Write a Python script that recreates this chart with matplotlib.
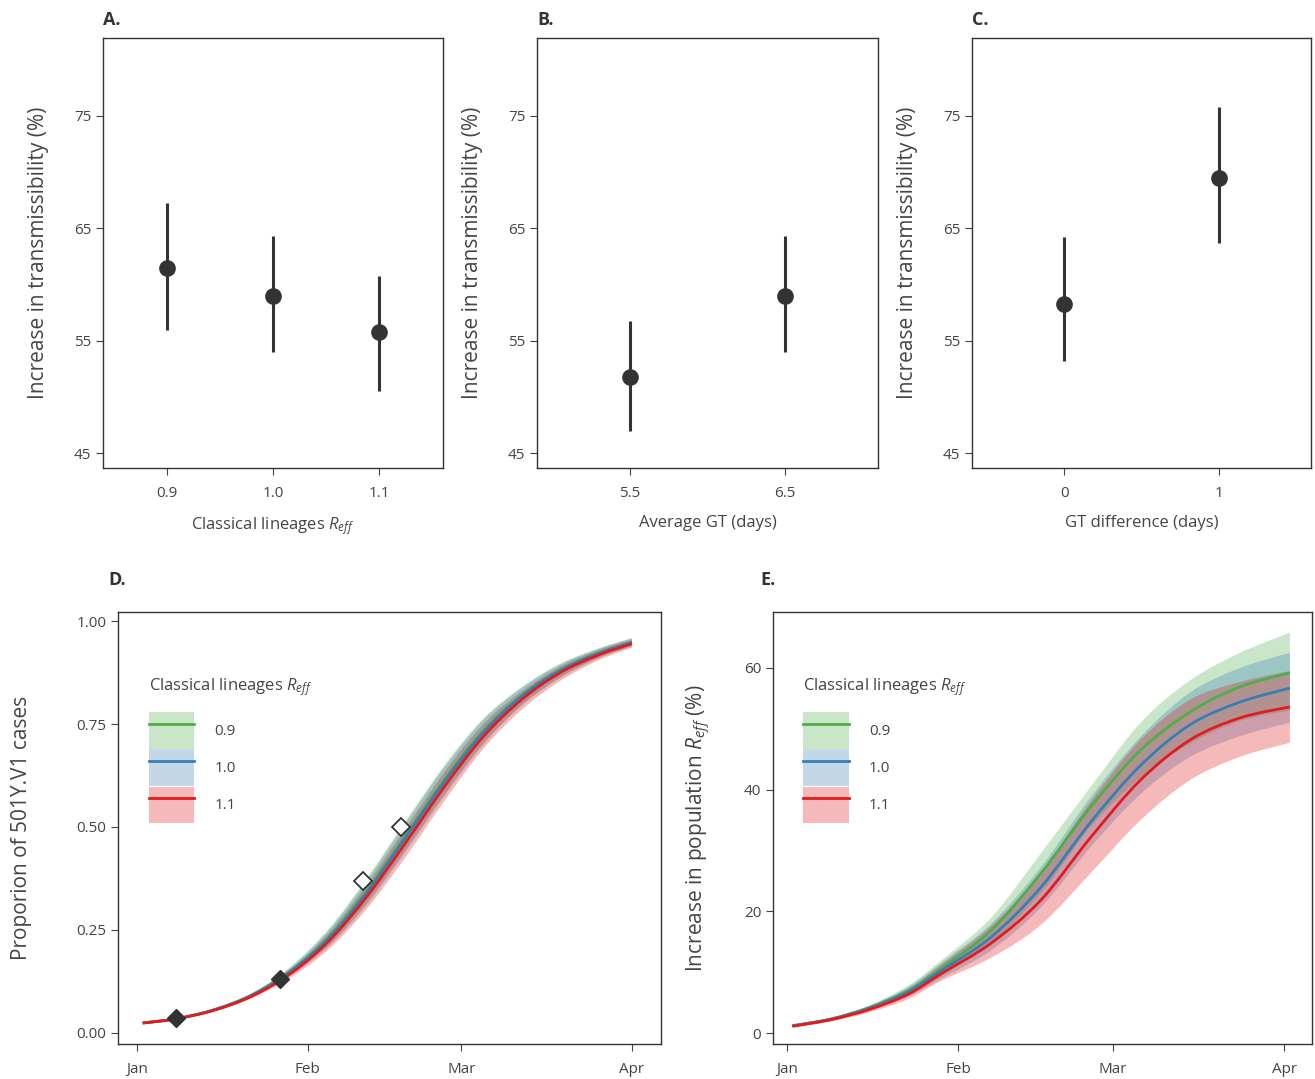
import matplotlib
matplotlib.use("Agg")
import matplotlib.pyplot as plt
import numpy as np
from matplotlib.patches import Patch, PathPatch
from matplotlib.path import Path
from matplotlib.lines import Line2D

plt.rcParams['font.family'] = ['Open Sans', 'DejaVu Sans']
plt.rcParams['mathtext.fontset'] = 'custom'
plt.rcParams['mathtext.it'] = 'Open Sans:italic'
plt.rcParams['mathtext.rm'] = 'Open Sans'

# ---- top panels data ----
a_labels = ['0.9', '1.0', '1.1']
a_mid = [61.5, 59.0, 55.8]
a_lo = [56.0, 54.0, 50.5]
a_hi = [67.2, 64.3, 60.8]
b_labels = ['5.5', '6.5']
b_mid = [51.8, 59.0]
b_lo = [47.0, 54.0]
b_hi = [56.8, 64.3]
c_labels = ['0', '1']
c_mid = [58.3, 69.5]
c_lo = [53.2, 63.7]
c_hi = [64.2, 75.8]

# ---- panel D data (days since 1 Jan) ----
days = [1, 7, 14, 21, 28, 35, 42, 49, 56, 63, 70, 77, 84, 90]
d_red = [0.024, 0.034, 0.055, 0.09, 0.145, 0.225, 0.335, 0.465, 0.60, 0.72, 0.81, 0.875, 0.918, 0.945]
d_red_lo = [0.023, 0.033, 0.052, 0.085, 0.135, 0.205, 0.305, 0.43, 0.565, 0.69, 0.785, 0.855, 0.905, 0.935]
d_red_hi = [0.025, 0.035, 0.058, 0.095, 0.155, 0.245, 0.365, 0.50, 0.635, 0.75, 0.83, 0.89, 0.93, 0.955]
d_blue = [0.024, 0.034, 0.056, 0.092, 0.15, 0.232, 0.345, 0.478, 0.612, 0.73, 0.818, 0.88, 0.922, 0.948]
d_blue_lo = [0.023, 0.033, 0.053, 0.087, 0.14, 0.212, 0.315, 0.443, 0.577, 0.70, 0.795, 0.862, 0.91, 0.938]
d_blue_hi = [0.025, 0.035, 0.059, 0.097, 0.16, 0.252, 0.375, 0.513, 0.647, 0.76, 0.838, 0.895, 0.933, 0.958]
d_green = [0.024, 0.034, 0.056, 0.093, 0.152, 0.235, 0.35, 0.483, 0.617, 0.734, 0.82, 0.882, 0.923, 0.949]
d_green_lo = [0.023, 0.033, 0.053, 0.088, 0.142, 0.215, 0.32, 0.448, 0.582, 0.704, 0.797, 0.864, 0.911, 0.939]
d_green_hi = [0.025, 0.035, 0.06, 0.098, 0.162, 0.255, 0.38, 0.518, 0.652, 0.764, 0.84, 0.897, 0.934, 0.959]
obs_filled_day = [7, 26]
obs_filled_val = [0.036, 0.13]
obs_open_day = [41, 48]
obs_open_val = [0.37, 0.50]

# ---- panel E data ----
e_days = [1, 8, 15, 22, 28, 37, 46, 55, 64, 73, 82, 91]
e_green = [1.2, 2.3, 4.2, 7.0, 10.7, 16.9, 26.3, 37.2, 46.5, 52.8, 56.9, 59.2]
e_green_lo = [1.1, 2.1, 3.8, 6.2, 9.4, 14.8, 23.0, 33.9, 42.0, 47.6, 51.3, 53.0]
e_green_hi = [1.3, 2.5, 4.6, 7.8, 12.0, 19.0, 29.6, 40.5, 51.0, 58.0, 62.5, 65.8]
e_blue = [1.2, 2.3, 4.1, 6.8, 10.3, 15.8, 24.0, 34.7, 44.0, 50.7, 54.4, 56.7]
e_blue_lo = [1.1, 2.1, 3.7, 6.0, 9.0, 13.6, 20.7, 30.6, 39.3, 45.4, 48.8, 51.0]
e_blue_hi = [1.3, 2.5, 4.5, 7.6, 11.6, 18.0, 27.3, 38.8, 48.7, 56.0, 60.0, 62.5]
e_red = [1.1, 2.2, 3.9, 6.4, 9.8, 14.8, 21.9, 32.2, 41.6, 48.2, 51.8, 53.6]
e_red_lo = [1.0, 1.9, 3.4, 5.6, 8.6, 12.4, 17.8, 26.3, 35.0, 41.6, 45.4, 47.7]
e_red_hi = [1.2, 2.5, 4.4, 7.3, 11.3, 17.6, 26.4, 38.1, 48.2, 54.8, 57.7, 59.5]

month_days = [0, 31, 59, 90]
month_labels = ['Jan', 'Feb', 'Mar', 'Apr']
leg_labels = ['0.9', '1.0', '1.1']
GREEN, BLUE, RED = '#4daf4a', '#377eb8', '#e41a1c'
DARK = '#333333'
TXT = '#444444'

W, H = 1315, 1079
fig = plt.figure(figsize=(W/100, H/100), dpi=100)


def bezier_verts(x, y):
    """Catmull-Rom control points -> cubic Bezier vertices (drawn by matplotlib Path)."""
    x = np.asarray(x, float); y = np.asarray(y, float)
    n = len(x)
    verts = [(x[0], y[0])]
    for i in range(n - 1):
        i0 = max(i - 1, 0); i3 = min(i + 2, n - 1)
        c1 = (x[i] + (x[i+1] - x[i0]) / 6, y[i] + (y[i+1] - y[i0]) / 6)
        c2 = (x[i+1] - (x[i3] - x[i]) / 6, y[i+1] - (y[i3] - y[i]) / 6)
        verts += [c1, c2, (x[i+1], y[i+1])]
    return verts


def smooth_line(ax, x, y, **kw):
    v = bezier_verts(x, y)
    codes = [Path.MOVETO] + [Path.CURVE4] * (len(v) - 1)
    ax.add_patch(PathPatch(Path(v, codes), fill=False, **kw))


def smooth_band(ax, x, lo, hi, **kw):
    up = bezier_verts(x, hi)
    dn = bezier_verts(x[::-1], lo[::-1])
    v = up + [dn[0]] + dn[1:] + [up[0]]
    codes = ([Path.MOVETO] + [Path.CURVE4] * (len(up) - 1) + [Path.LINETO]
             + [Path.CURVE4] * (len(dn) - 1) + [Path.CLOSEPOLY])
    ax.add_patch(PathPatch(Path(v, codes), lw=0, **kw))


def ax_px(x0, y0, x1, y1):
    return fig.add_axes([x0/W, 1 - y1/H, (x1-x0)/W, (y1-y0)/H])


def style(ax):
    for s in ax.spines.values():
        s.set_color(DARK); s.set_linewidth(1.0)
    ax.tick_params(colors=TXT, labelcolor=TXT, labelsize=11, length=5, width=0.8)
    ax.tick_params(axis='x', pad=8)


tops = [(103, 443, a_labels, a_mid, a_lo, a_hi, 'Classical lineages $R_{eff}$', 'A.'),
        (537, 878, b_labels, b_mid, b_lo, b_hi, 'Average GT (days)', 'B.'),
        (972, 1311, c_labels, c_mid, c_lo, c_hi, 'GT difference (days)', 'C.')]
for x0, x1, labs, mid, lo, hi, xl, tag in tops:
    ax = ax_px(x0, 38, x1, 468)
    style(ax)
    xs = np.arange(len(labs))
    ax.vlines(xs, lo, hi, color=DARK, lw=2.2)
    ax.plot(xs, mid, 'o', color=DARK, ms=11)
    ax.set_xticks(xs, labs)
    ax.set_xlim(-0.6, len(labs) - 0.4)
    ax.set_ylim(43.7, 81.9)
    ax.set_yticks([45, 55, 65, 75])
    ax.set_xlabel(xl, fontsize=12, color=TXT, labelpad=10)
    ax.set_ylabel('Increase in transmissibility (%)', fontsize=15, color=TXT, labelpad=18)
    fig.text(x0/W, 1 - 20/H, tag, fontsize=13, fontweight='bold', color=DARK, va='center')


def legend(ax):
    handles = []
    for c in (GREEN, BLUE, RED):
        handles.append((Patch(facecolor=c, alpha=0.3, edgecolor='none'),
                        Line2D([], [], color=c, lw=2)))
    lg = ax.legend(handles, leg_labels, title='Classical lineages $R_{eff}$',
                   loc='upper left', bbox_to_anchor=(0.045, 0.865), frameon=False,
                   handlelength=3.0, handleheight=3.3, fontsize=11, title_fontsize=12,
                   labelspacing=0.05, handletextpad=1.3, borderaxespad=0)
    lg.get_title().set_color(TXT)
    lg._legend_box.align = 'left'
    lg._legend_box.sep = 10
    for t in lg.get_texts():
        t.set_color(TXT)


# Panel D
ax = ax_px(118, 612, 661, 1044)
style(ax)
for c, lo, hi in ((GREEN, d_green_lo, d_green_hi), (BLUE, d_blue_lo, d_blue_hi),
                  (RED, d_red_lo, d_red_hi)):
    smooth_band(ax, days, lo, hi, facecolor=c, alpha=0.3)
for c, m in ((GREEN, d_green), (BLUE, d_blue), (RED, d_red)):
    smooth_line(ax, days, m, edgecolor=c, lw=2)
ax.plot(obs_filled_day, obs_filled_val, 'D', color=DARK, ms=9)
ax.plot(obs_open_day, obs_open_val, 'D', mfc='white', mec=DARK, mew=1.3, ms=9)
ax.set_xlim(-3.5, 95.3)
ax.set_ylim(-0.027, 1.022)
ax.set_xticks(month_days, month_labels)
ax.set_yticks([0, 0.25, 0.5, 0.75, 1.0], ['0.00', '0.25', '0.50', '0.75', '1.00'])
ax.set_ylabel('Proporion of 501Y.V1 cases', fontsize=15, color=TXT, labelpad=32)
legend(ax)
fig.text(108/W, 1 - 580/H, 'D.', fontsize=13, fontweight='bold', color=DARK, va='center')

# Panel E
ax = ax_px(773, 612, 1312, 1044)
style(ax)
for c, lo, hi in ((GREEN, e_green_lo, e_green_hi), (BLUE, e_blue_lo, e_blue_hi),
                  (RED, e_red_lo, e_red_hi)):
    smooth_band(ax, e_days, lo, hi, facecolor=c, alpha=0.3)
for c, m in ((GREEN, e_green), (BLUE, e_blue), (RED, e_red)):
    smooth_line(ax, e_days, m, edgecolor=c, lw=2)
ax.set_xlim(-2.5, 95)
ax.set_ylim(-1.8, 69.2)
ax.set_xticks(month_days, month_labels)
ax.set_yticks([0, 20, 40, 60])
ax.set_ylabel('Increase in population $R_{eff}$ (%)', fontsize=15, color=TXT, labelpad=22)
legend(ax)
fig.text(760/W, 1 - 580/H, 'E.', fontsize=13, fontweight='bold', color=DARK, va='center')

fig.savefig('out.png', dpi=100)
